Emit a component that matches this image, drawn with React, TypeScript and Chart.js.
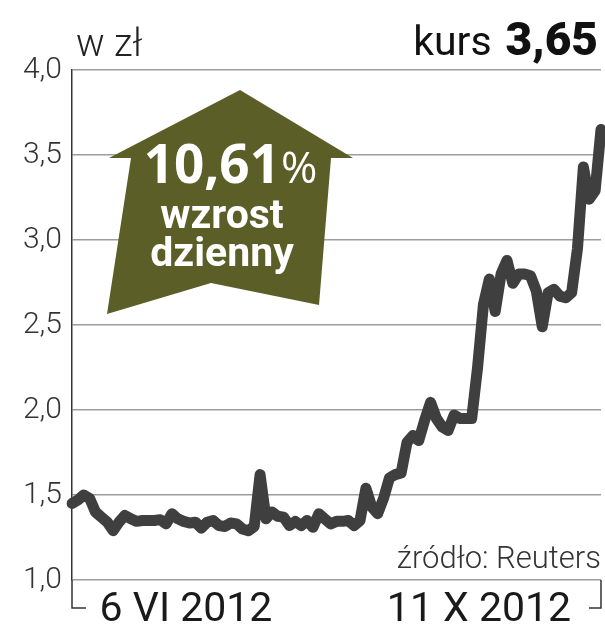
import { useEffect, useRef } from 'react';
import { Chart, registerables } from 'chart.js';

Chart.register(...registerables);

// Daily closing price (zł), 6 VI 2012 – 11 X 2012
const PRICES = [
  1.45, 1.47, 1.50, 1.48, 1.40, 1.37, 1.34, 1.29, 1.34, 1.38,
  1.36, 1.345, 1.35, 1.35, 1.35, 1.355, 1.33, 1.39, 1.36, 1.345,
  1.335, 1.34, 1.305, 1.34, 1.35, 1.32, 1.315, 1.335, 1.33, 1.30,
  1.29, 1.315, 1.62, 1.36, 1.40, 1.375, 1.37, 1.32, 1.345, 1.32,
  1.35, 1.31, 1.39, 1.36, 1.33, 1.345, 1.345, 1.35, 1.32, 1.35,
  1.54, 1.43, 1.39, 1.48, 1.60, 1.62, 1.63, 1.81, 1.85, 1.82,
  1.94, 2.045, 1.95, 1.90, 1.88, 1.97, 1.95, 1.95, 1.95, 2.25,
  2.62, 2.77, 2.58, 2.80, 2.88, 2.745, 2.80, 2.80, 2.79, 2.70,
  2.49, 2.69, 2.71, 2.67, 2.66, 2.69, 2.95, 3.43, 3.24, 3.29,
  3.65,
];
const DAYS = PRICES.map((_, i) => `d${i + 1}`);
const Y_MIN = 1.0;
const Y_MAX = 4.0;
const Y_STEP = 0.5;
const DATE_LABELS = ['6 VI 2012', '11 X 2012'];
const UNIT_LABEL = 'w zł';
const PRICE_LABEL = 'kurs';
const LAST_PRICE = '3,65';
const CHANGE_PCT = '10,61';
const CHANGE_TEXT = ['wzrost', 'dzienny'];
const SOURCE = 'źródło: Reuters';

const SANS = "Roboto, 'Noto Sans', sans-serif";
const BOLDF = "'Open Sans', Roboto, sans-serif";

function drawText(ctx: CanvasRenderingContext2D, text: string, x: number, y: number, font: string, align: CanvasTextAlign, color: string) {
  ctx.save();
  ctx.font = font;
  ctx.fillStyle = color;
  ctx.textAlign = align;
  ctx.textBaseline = 'alphabetic';
  ctx.fillText(text, x, y);
  ctx.restore();
}

const decorPlugin = {
  id: 'decor',
  beforeDatasetsDraw(chart: any) {
    const ctx: CanvasRenderingContext2D = chart.ctx;
    // arrow
    ctx.save();
    ctx.fillStyle = '#5b5e27';
    ctx.beginPath();
    ctx.moveTo(240, 90);
    ctx.lineTo(353, 158);
    ctx.lineTo(331, 158);
    ctx.lineTo(319, 305);
    ctx.lineTo(211, 283);
    ctx.lineTo(107, 314);
    ctx.lineTo(131, 158);
    ctx.lineTo(109, 158);
    ctx.closePath();
    ctx.fill();
    // arrow text
    ctx.fillStyle = '#ffffff';
    ctx.textBaseline = 'alphabetic';
    ctx.font = `700 53px ${BOLDF}`;
    const w1 = ctx.measureText(CHANGE_PCT).width;
    ctx.font = `400 44px ${BOLDF}`;
    const w2 = ctx.measureText('%').width;
    const sx = 230 - (w1 + w2) / 2;
    ctx.textAlign = 'left';
    ctx.font = `700 53px ${BOLDF}`;
    ctx.fillText(CHANGE_PCT, sx, 183);
    ctx.font = `400 44px ${BOLDF}`;
    ctx.fillText('%', sx + w1 + 1, 183);
    ctx.textAlign = 'center';
    ctx.font = `700 41px ${SANS}`;
    ctx.fillText(CHANGE_TEXT[0], 222, 228);
    ctx.fillText(CHANGE_TEXT[1], 222, 266);
    ctx.restore();
  },
  afterDraw(chart: any) {
    const ctx: CanvasRenderingContext2D = chart.ctx;
    const { left, right, bottom } = chart.chartArea;
    // brackets
    ctx.save();
    ctx.strokeStyle = '#333';
    ctx.lineWidth = 1.5;
    ctx.beginPath();
    ctx.moveTo(left, bottom);
    ctx.lineTo(left, 608);
    ctx.lineTo(left + 14, 608);
    ctx.moveTo(right, bottom);
    ctx.lineTo(right, 608);
    ctx.lineTo(right - 12, 608);
    ctx.stroke();
    ctx.restore();
    // texts
    drawText(ctx, DATE_LABELS[0], 186, 621, `400 41px ${SANS}`, 'center', '#1a1a1a');
    drawText(ctx, DATE_LABELS[1], 479, 621, `400 41px ${SANS}`, 'center', '#1a1a1a');
    drawText(ctx, SOURCE, 601, 568, `300 31px ${SANS}`, 'right', '#333');
    drawText(ctx, UNIT_LABEL, 76, 56, `300 38px ${SANS}`, 'left', '#222');
    ctx.save();
    ctx.font = `900 46px ${SANS}`;
    const wp = ctx.measureText(LAST_PRICE).width;
    ctx.restore();
    drawText(ctx, LAST_PRICE, 598, 55, `900 46px ${SANS}`, 'right', '#111');
    drawText(ctx, PRICE_LABEL, 598 - wp - 14, 55, `400 41px ${SANS}`, 'right', '#111');
  },
};

export default function App() {
  const ref = useRef<HTMLCanvasElement | null>(null);
  useEffect(() => {
    if (!ref.current) return;
    const chart = new Chart(ref.current, {
      type: 'line',
      data: {
        labels: DAYS,
        datasets: [
          {
            data: PRICES,
            borderColor: '#3f3f3f',
            borderWidth: 11,
            pointRadius: 0,
            tension: 0,
            borderJoinStyle: 'round',
            borderCapStyle: 'round',
            fill: false,
          },
        ],
      },
      options: {
        animation: false,
        responsive: false,
        layout: { padding: { left: 0, right: 4, top: 70, bottom: 60 } },
        plugins: { legend: { display: false }, tooltip: { enabled: false }, title: { display: false } },
        scales: {
          x: { type: 'category', display: false, offset: false },
          y: {
            min: Y_MIN,
            max: Y_MAX,
            afterFit: (s: any) => { s.width = 72; },
            ticks: {
              stepSize: Y_STEP,
              padding: 10,
              color: '#333',
              font: { family: SANS, size: 30, weight: '300' },
              callback: (v: any) => Number(v).toFixed(1).replace('.', ','),
            },
            grid: { color: '#9c9c9c', lineWidth: 1.5, drawTicks: false },
            border: { display: true, color: '#333', width: 1.5 },
          },
        },
      },
      plugins: [decorPlugin],
    });
    return () => chart.destroy();
  }, []);
  return (
    <div style={{ position: 'absolute', left: 0, top: 0, width: 605, height: 640, background: '#fff' }}>
      <canvas ref={ref} width={605} height={640} />
    </div>
  );
}
